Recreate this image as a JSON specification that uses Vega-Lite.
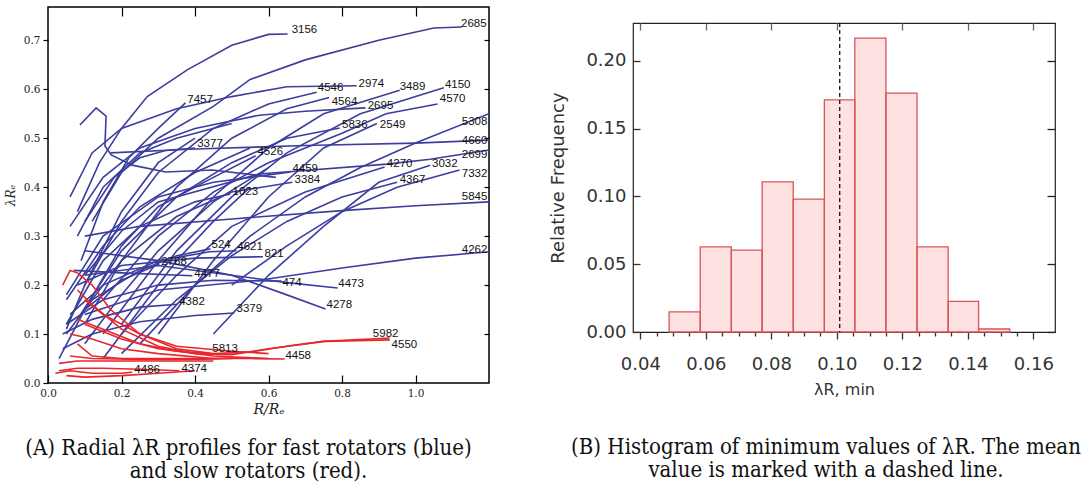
{
  "$schema": "https://vega.github.io/schema/vega-lite/v6.json",
  "background": "white",
  "padding": {"left": 3, "top": 5, "right": 0, "bottom": 0},
  "spacing": 58,
  "config": {"axis": {"grid": false}, "title": {"fontWeight": "normal"}},
  "datasets": {
    "profiles": [
      {"id":"b3156","t":"fast","i":0,"x":0.08,"y":0.35},{"id":"b3156","t":"fast","i":1,"x":0.14,"y":0.45},{"id":"b3156","t":"fast","i":2,"x":0.2,"y":0.52},{"id":"b3156","t":"fast","i":3,"x":0.27,"y":0.585},{"id":"b3156","t":"fast","i":4,"x":0.38,"y":0.64},{"id":"b3156","t":"fast","i":5,"x":0.5,"y":0.69},{"id":"b3156","t":"fast","i":6,"x":0.6,"y":0.712},{"id":"b3156","t":"fast","i":7,"x":0.652,"y":0.713},
      {"id":"b2685","t":"fast","i":0,"x":0.12,"y":0.33},{"id":"b2685","t":"fast","i":1,"x":0.2,"y":0.43},{"id":"b2685","t":"fast","i":2,"x":0.3,"y":0.5},{"id":"b2685","t":"fast","i":3,"x":0.45,"y":0.565},{"id":"b2685","t":"fast","i":4,"x":0.55,"y":0.62},{"id":"b2685","t":"fast","i":5,"x":0.7,"y":0.66},{"id":"b2685","t":"fast","i":6,"x":0.9,"y":0.7},{"id":"b2685","t":"fast","i":7,"x":1.05,"y":0.725},{"id":"b2685","t":"fast","i":8,"x":1.126,"y":0.727},
      {"id":"b7457","t":"fast","i":0,"x":0.09,"y":0.25},{"id":"b7457","t":"fast","i":1,"x":0.15,"y":0.37},{"id":"b7457","t":"fast","i":2,"x":0.22,"y":0.46},{"id":"b7457","t":"fast","i":3,"x":0.3,"y":0.52},{"id":"b7457","t":"fast","i":4,"x":0.374,"y":0.572},
      {"id":"bzig","t":"fast","i":0,"x":0.087,"y":0.527},{"id":"bzig","t":"fast","i":1,"x":0.131,"y":0.562},{"id":"bzig","t":"fast","i":2,"x":0.158,"y":0.545},{"id":"bzig","t":"fast","i":3,"x":0.155,"y":0.484},{"id":"bzig","t":"fast","i":4,"x":0.172,"y":0.466},{"id":"bzig","t":"fast","i":5,"x":0.229,"y":0.445},{"id":"bzig","t":"fast","i":6,"x":0.32,"y":0.431},{"id":"bzig","t":"fast","i":7,"x":0.447,"y":0.435},{"id":"bzig","t":"fast","i":8,"x":0.62,"y":0.42},
      {"id":"b3377","t":"fast","i":0,"x":0.1,"y":0.33},{"id":"b3377","t":"fast","i":1,"x":0.18,"y":0.42},{"id":"b3377","t":"fast","i":2,"x":0.25,"y":0.46},{"id":"b3377","t":"fast","i":3,"x":0.32,"y":0.475},{"id":"b3377","t":"fast","i":4,"x":0.4,"y":0.48},
      {"id":"b4660","t":"fast","i":0,"x":0.17,"y":0.47},{"id":"b4660","t":"fast","i":1,"x":0.4,"y":0.478},{"id":"b4660","t":"fast","i":2,"x":0.7,"y":0.485},{"id":"b4660","t":"fast","i":3,"x":1.0,"y":0.49},{"id":"b4660","t":"fast","i":4,"x":1.2,"y":0.496},
      {"id":"b4526","t":"fast","i":0,"x":0.1,"y":0.15},{"id":"b4526","t":"fast","i":1,"x":0.2,"y":0.28},{"id":"b4526","t":"fast","i":2,"x":0.3,"y":0.36},{"id":"b4526","t":"fast","i":3,"x":0.45,"y":0.42},{"id":"b4526","t":"fast","i":4,"x":0.565,"y":0.464},
      {"id":"b1023","t":"fast","i":0,"x":0.05,"y":0.12},{"id":"b1023","t":"fast","i":1,"x":0.15,"y":0.25},{"id":"b1023","t":"fast","i":2,"x":0.25,"y":0.32},{"id":"b1023","t":"fast","i":3,"x":0.4,"y":0.37},{"id":"b1023","t":"fast","i":4,"x":0.496,"y":0.386},
      {"id":"b4546","t":"fast","i":0,"x":0.1,"y":0.2},{"id":"b4546","t":"fast","i":1,"x":0.2,"y":0.33},{"id":"b4546","t":"fast","i":2,"x":0.3,"y":0.43},{"id":"b4546","t":"fast","i":3,"x":0.45,"y":0.52},{"id":"b4546","t":"fast","i":4,"x":0.6,"y":0.57},{"id":"b4546","t":"fast","i":5,"x":0.731,"y":0.594},
      {"id":"b2974","t":"fast","i":0,"x":0.06,"y":0.38},{"id":"b2974","t":"fast","i":1,"x":0.12,"y":0.47},{"id":"b2974","t":"fast","i":2,"x":0.2,"y":0.52},{"id":"b2974","t":"fast","i":3,"x":0.35,"y":0.56},{"id":"b2974","t":"fast","i":4,"x":0.5,"y":0.585},{"id":"b2974","t":"fast","i":5,"x":0.65,"y":0.605},{"id":"b2974","t":"fast","i":6,"x":0.84,"y":0.607},
      {"id":"b4564","t":"fast","i":0,"x":0.1,"y":0.12},{"id":"b4564","t":"fast","i":1,"x":0.2,"y":0.25},{"id":"b4564","t":"fast","i":2,"x":0.35,"y":0.4},{"id":"b4564","t":"fast","i":3,"x":0.5,"y":0.5},{"id":"b4564","t":"fast","i":4,"x":0.65,"y":0.56},{"id":"b4564","t":"fast","i":5,"x":0.765,"y":0.583},
      {"id":"b3489","t":"fast","i":0,"x":0.15,"y":0.1},{"id":"b3489","t":"fast","i":1,"x":0.3,"y":0.25},{"id":"b3489","t":"fast","i":2,"x":0.45,"y":0.38},{"id":"b3489","t":"fast","i":3,"x":0.6,"y":0.48},{"id":"b3489","t":"fast","i":4,"x":0.75,"y":0.55},{"id":"b3489","t":"fast","i":5,"x":0.957,"y":0.598},
      {"id":"b4150","t":"fast","i":0,"x":0.2,"y":0.12},{"id":"b4150","t":"fast","i":1,"x":0.35,"y":0.27},{"id":"b4150","t":"fast","i":2,"x":0.5,"y":0.38},{"id":"b4150","t":"fast","i":3,"x":0.65,"y":0.47},{"id":"b4150","t":"fast","i":4,"x":0.85,"y":0.55},{"id":"b4150","t":"fast","i":5,"x":1.077,"y":0.603},
      {"id":"b4570","t":"fast","i":0,"x":0.15,"y":0.17},{"id":"b4570","t":"fast","i":1,"x":0.3,"y":0.3},{"id":"b4570","t":"fast","i":2,"x":0.45,"y":0.39},{"id":"b4570","t":"fast","i":3,"x":0.6,"y":0.45},{"id":"b4570","t":"fast","i":4,"x":0.8,"y":0.51},{"id":"b4570","t":"fast","i":5,"x":0.92,"y":0.55},{"id":"b4570","t":"fast","i":6,"x":1.06,"y":0.57},
      {"id":"b2695","t":"fast","i":0,"x":0.06,"y":0.32},{"id":"b2695","t":"fast","i":1,"x":0.15,"y":0.42},{"id":"b2695","t":"fast","i":2,"x":0.25,"y":0.48},{"id":"b2695","t":"fast","i":3,"x":0.4,"y":0.52},{"id":"b2695","t":"fast","i":4,"x":0.575,"y":0.547},{"id":"b2695","t":"fast","i":5,"x":0.7,"y":0.555},{"id":"b2695","t":"fast","i":6,"x":0.864,"y":0.562},
      {"id":"b5836","t":"fast","i":0,"x":0.08,"y":0.13},{"id":"b5836","t":"fast","i":1,"x":0.2,"y":0.27},{"id":"b5836","t":"fast","i":2,"x":0.35,"y":0.38},{"id":"b5836","t":"fast","i":3,"x":0.5,"y":0.45},{"id":"b5836","t":"fast","i":4,"x":0.65,"y":0.5},{"id":"b5836","t":"fast","i":5,"x":0.794,"y":0.521},
      {"id":"b2549","t":"fast","i":0,"x":0.3,"y":0.1},{"id":"b2549","t":"fast","i":1,"x":0.45,"y":0.25},{"id":"b2549","t":"fast","i":2,"x":0.6,"y":0.38},{"id":"b2549","t":"fast","i":3,"x":0.75,"y":0.48},{"id":"b2549","t":"fast","i":4,"x":0.895,"y":0.53},
      {"id":"b5308","t":"fast","i":0,"x":0.25,"y":0.08},{"id":"b5308","t":"fast","i":1,"x":0.4,"y":0.2},{"id":"b5308","t":"fast","i":2,"x":0.55,"y":0.3},{"id":"b5308","t":"fast","i":3,"x":0.7,"y":0.38},{"id":"b5308","t":"fast","i":4,"x":0.85,"y":0.44},{"id":"b5308","t":"fast","i":5,"x":1.0,"y":0.49},{"id":"b5308","t":"fast","i":6,"x":1.2,"y":0.55},
      {"id":"b2699","t":"fast","i":0,"x":0.1,"y":0.22},{"id":"b2699","t":"fast","i":1,"x":0.2,"y":0.31},{"id":"b2699","t":"fast","i":2,"x":0.3,"y":0.37},{"id":"b2699","t":"fast","i":3,"x":0.575,"y":0.427},{"id":"b2699","t":"fast","i":4,"x":0.922,"y":0.447},{"id":"b2699","t":"fast","i":5,"x":1.04,"y":0.457},{"id":"b2699","t":"fast","i":6,"x":1.2,"y":0.476},
      {"id":"b4270","t":"fast","i":0,"x":0.2,"y":0.1},{"id":"b4270","t":"fast","i":1,"x":0.35,"y":0.22},{"id":"b4270","t":"fast","i":2,"x":0.5,"y":0.32},{"id":"b4270","t":"fast","i":3,"x":0.7,"y":0.39},{"id":"b4270","t":"fast","i":4,"x":0.916,"y":0.441},
      {"id":"b3032","t":"fast","i":0,"x":0.45,"y":0.1},{"id":"b3032","t":"fast","i":1,"x":0.6,"y":0.22},{"id":"b3032","t":"fast","i":2,"x":0.75,"y":0.32},{"id":"b3032","t":"fast","i":3,"x":0.9,"y":0.41},{"id":"b3032","t":"fast","i":4,"x":1.04,"y":0.445},
      {"id":"b7332","t":"fast","i":0,"x":0.5,"y":0.2},{"id":"b7332","t":"fast","i":1,"x":0.65,"y":0.28},{"id":"b7332","t":"fast","i":2,"x":0.8,"y":0.35},{"id":"b7332","t":"fast","i":3,"x":0.95,"y":0.4},{"id":"b7332","t":"fast","i":4,"x":1.12,"y":0.435},
      {"id":"b4459","t":"fast","i":0,"x":0.05,"y":0.18},{"id":"b4459","t":"fast","i":1,"x":0.15,"y":0.3},{"id":"b4459","t":"fast","i":2,"x":0.3,"y":0.38},{"id":"b4459","t":"fast","i":3,"x":0.45,"y":0.41},{"id":"b4459","t":"fast","i":4,"x":0.66,"y":0.431},
      {"id":"b3384","t":"fast","i":0,"x":0.1,"y":0.15},{"id":"b3384","t":"fast","i":1,"x":0.2,"y":0.25},{"id":"b3384","t":"fast","i":2,"x":0.35,"y":0.34},{"id":"b3384","t":"fast","i":3,"x":0.5,"y":0.39},{"id":"b3384","t":"fast","i":4,"x":0.665,"y":0.41},
      {"id":"b4367","t":"fast","i":0,"x":0.2,"y":0.06},{"id":"b4367","t":"fast","i":1,"x":0.35,"y":0.17},{"id":"b4367","t":"fast","i":2,"x":0.5,"y":0.26},{"id":"b4367","t":"fast","i":3,"x":0.65,"y":0.33},{"id":"b4367","t":"fast","i":4,"x":0.8,"y":0.38},{"id":"b4367","t":"fast","i":5,"x":0.95,"y":0.41},
      {"id":"b5845","t":"fast","i":0,"x":0.1,"y":0.3},{"id":"b5845","t":"fast","i":1,"x":0.25,"y":0.32},{"id":"b5845","t":"fast","i":2,"x":0.5,"y":0.335},{"id":"b5845","t":"fast","i":3,"x":0.8,"y":0.352},{"id":"b5845","t":"fast","i":4,"x":1.0,"y":0.362},{"id":"b5845","t":"fast","i":5,"x":1.2,"y":0.37},
      {"id":"b4262","t":"fast","i":0,"x":0.1,"y":0.14},{"id":"b4262","t":"fast","i":1,"x":0.3,"y":0.19},{"id":"b4262","t":"fast","i":2,"x":0.575,"y":0.21},{"id":"b4262","t":"fast","i":3,"x":0.8,"y":0.235},{"id":"b4262","t":"fast","i":4,"x":1.0,"y":0.255},{"id":"b4262","t":"fast","i":5,"x":1.2,"y":0.268},
      {"id":"b474","t":"fast","i":0,"x":0.05,"y":0.12},{"id":"b474","t":"fast","i":1,"x":0.15,"y":0.17},{"id":"b474","t":"fast","i":2,"x":0.3,"y":0.2},{"id":"b474","t":"fast","i":3,"x":0.45,"y":0.21},{"id":"b474","t":"fast","i":4,"x":0.635,"y":0.208},
      {"id":"b4473","t":"fast","i":0,"x":0.1,"y":0.22},{"id":"b4473","t":"fast","i":1,"x":0.3,"y":0.24},{"id":"b4473","t":"fast","i":2,"x":0.5,"y":0.22},{"id":"b4473","t":"fast","i":3,"x":0.65,"y":0.205},{"id":"b4473","t":"fast","i":4,"x":0.788,"y":0.194},
      {"id":"b4278","t":"fast","i":0,"x":0.1,"y":0.27},{"id":"b4278","t":"fast","i":1,"x":0.3,"y":0.25},{"id":"b4278","t":"fast","i":2,"x":0.5,"y":0.22},{"id":"b4278","t":"fast","i":3,"x":0.65,"y":0.18},{"id":"b4278","t":"fast","i":4,"x":0.755,"y":0.151},
      {"id":"b524","t":"fast","i":0,"x":0.05,"y":0.1},{"id":"b524","t":"fast","i":1,"x":0.12,"y":0.17},{"id":"b524","t":"fast","i":2,"x":0.25,"y":0.23},{"id":"b524","t":"fast","i":3,"x":0.35,"y":0.26},{"id":"b524","t":"fast","i":4,"x":0.442,"y":0.274},
      {"id":"b4621","t":"fast","i":0,"x":0.06,"y":0.14},{"id":"b4621","t":"fast","i":1,"x":0.15,"y":0.2},{"id":"b4621","t":"fast","i":2,"x":0.3,"y":0.25},{"id":"b4621","t":"fast","i":3,"x":0.44,"y":0.268},{"id":"b4621","t":"fast","i":4,"x":0.513,"y":0.27},
      {"id":"b821","t":"fast","i":0,"x":0.08,"y":0.2},{"id":"b821","t":"fast","i":1,"x":0.2,"y":0.24},{"id":"b821","t":"fast","i":2,"x":0.4,"y":0.255},{"id":"b821","t":"fast","i":3,"x":0.585,"y":0.258},
      {"id":"b2768","t":"fast","i":0,"x":0.03,"y":0.05},{"id":"b2768","t":"fast","i":1,"x":0.1,"y":0.15},{"id":"b2768","t":"fast","i":2,"x":0.2,"y":0.21},{"id":"b2768","t":"fast","i":3,"x":0.303,"y":0.243},
      {"id":"b4477","t":"fast","i":0,"x":0.07,"y":0.23},{"id":"b4477","t":"fast","i":1,"x":0.2,"y":0.225},{"id":"b4477","t":"fast","i":2,"x":0.393,"y":0.219},
      {"id":"b4382","t":"fast","i":0,"x":0.04,"y":0.1},{"id":"b4382","t":"fast","i":1,"x":0.12,"y":0.13},{"id":"b4382","t":"fast","i":2,"x":0.25,"y":0.155},{"id":"b4382","t":"fast","i":3,"x":0.352,"y":0.161},
      {"id":"b3379","t":"fast","i":0,"x":0.04,"y":0.07},{"id":"b3379","t":"fast","i":1,"x":0.12,"y":0.1},{"id":"b3379","t":"fast","i":2,"x":0.25,"y":0.125},{"id":"b3379","t":"fast","i":3,"x":0.4,"y":0.138},{"id":"b3379","t":"fast","i":4,"x":0.507,"y":0.143},
      {"id":"u1","t":"fast","i":0,"x":0.05,"y":0.11},{"id":"u1","t":"fast","i":1,"x":0.1,"y":0.2},{"id":"u1","t":"fast","i":2,"x":0.2,"y":0.35},{"id":"u1","t":"fast","i":3,"x":0.3,"y":0.45},{"id":"u1","t":"fast","i":4,"x":0.4,"y":0.5},
      {"id":"u2","t":"fast","i":0,"x":0.15,"y":0.05},{"id":"u2","t":"fast","i":1,"x":0.25,"y":0.15},{"id":"u2","t":"fast","i":2,"x":0.35,"y":0.25},{"id":"u2","t":"fast","i":3,"x":0.45,"y":0.33},{"id":"u2","t":"fast","i":4,"x":0.55,"y":0.4},
      {"id":"u3","t":"fast","i":0,"x":0.1,"y":0.08},{"id":"u3","t":"fast","i":1,"x":0.2,"y":0.18},{"id":"u3","t":"fast","i":2,"x":0.3,"y":0.27},{"id":"u3","t":"fast","i":3,"x":0.45,"y":0.37},{"id":"u3","t":"fast","i":4,"x":0.6,"y":0.44},
      {"id":"u4","t":"fast","i":0,"x":0.05,"y":0.17},{"id":"u4","t":"fast","i":1,"x":0.15,"y":0.28},{"id":"u4","t":"fast","i":2,"x":0.25,"y":0.36},{"id":"u4","t":"fast","i":3,"x":0.4,"y":0.43},{"id":"u4","t":"fast","i":4,"x":0.55,"y":0.48},
      {"id":"u5","t":"fast","i":0,"x":0.08,"y":0.3},{"id":"u5","t":"fast","i":1,"x":0.15,"y":0.4},{"id":"u5","t":"fast","i":2,"x":0.25,"y":0.47},{"id":"u5","t":"fast","i":3,"x":0.35,"y":0.5},{"id":"u5","t":"fast","i":4,"x":0.5,"y":0.53},
      {"id":"r5982","t":"slow","i":0,"x":0.04,"y":0.2},{"id":"r5982","t":"slow","i":1,"x":0.06,"y":0.23},{"id":"r5982","t":"slow","i":2,"x":0.08,"y":0.225},{"id":"r5982","t":"slow","i":3,"x":0.12,"y":0.2},{"id":"r5982","t":"slow","i":4,"x":0.17,"y":0.15},{"id":"r5982","t":"slow","i":5,"x":0.25,"y":0.1},{"id":"r5982","t":"slow","i":6,"x":0.35,"y":0.07},{"id":"r5982","t":"slow","i":7,"x":0.45,"y":0.06},{"id":"r5982","t":"slow","i":8,"x":0.55,"y":0.063},{"id":"r5982","t":"slow","i":9,"x":0.65,"y":0.075},{"id":"r5982","t":"slow","i":10,"x":0.75,"y":0.085},{"id":"r5982","t":"slow","i":11,"x":0.93,"y":0.092},
      {"id":"r4550","t":"slow","i":0,"x":0.08,"y":0.19},{"id":"r4550","t":"slow","i":1,"x":0.12,"y":0.16},{"id":"r4550","t":"slow","i":2,"x":0.2,"y":0.11},{"id":"r4550","t":"slow","i":3,"x":0.3,"y":0.075},{"id":"r4550","t":"slow","i":4,"x":0.4,"y":0.06},{"id":"r4550","t":"slow","i":5,"x":0.5,"y":0.058},{"id":"r4550","t":"slow","i":6,"x":0.6,"y":0.07},{"id":"r4550","t":"slow","i":7,"x":0.75,"y":0.085},{"id":"r4550","t":"slow","i":8,"x":0.93,"y":0.088},
      {"id":"r5813","t":"slow","i":0,"x":0.08,"y":0.13},{"id":"r5813","t":"slow","i":1,"x":0.15,"y":0.11},{"id":"r5813","t":"slow","i":2,"x":0.25,"y":0.08},{"id":"r5813","t":"slow","i":3,"x":0.35,"y":0.065},{"id":"r5813","t":"slow","i":4,"x":0.44,"y":0.06},
      {"id":"r4458","t":"slow","i":0,"x":0.06,"y":0.1},{"id":"r4458","t":"slow","i":1,"x":0.12,"y":0.09},{"id":"r4458","t":"slow","i":2,"x":0.2,"y":0.07},{"id":"r4458","t":"slow","i":3,"x":0.3,"y":0.06},{"id":"r4458","t":"slow","i":4,"x":0.45,"y":0.05},{"id":"r4458","t":"slow","i":5,"x":0.55,"y":0.05},{"id":"r4458","t":"slow","i":6,"x":0.644,"y":0.049},
      {"id":"r5","t":"slow","i":0,"x":0.1,"y":0.17},{"id":"r5","t":"slow","i":1,"x":0.15,"y":0.14},{"id":"r5","t":"slow","i":2,"x":0.25,"y":0.1},{"id":"r5","t":"slow","i":3,"x":0.35,"y":0.075},{"id":"r5","t":"slow","i":4,"x":0.5,"y":0.065},{"id":"r5","t":"slow","i":5,"x":0.6,"y":0.06},
      {"id":"r6","t":"slow","i":0,"x":0.1,"y":0.12},{"id":"r6","t":"slow","i":1,"x":0.2,"y":0.09},{"id":"r6","t":"slow","i":2,"x":0.3,"y":0.07},{"id":"r6","t":"slow","i":3,"x":0.45,"y":0.055},{"id":"r6","t":"slow","i":4,"x":0.6,"y":0.05},
      {"id":"r7","t":"slow","i":0,"x":0.08,"y":0.08},{"id":"r7","t":"slow","i":1,"x":0.12,"y":0.055},{"id":"r7","t":"slow","i":2,"x":0.2,"y":0.05},{"id":"r7","t":"slow","i":3,"x":0.3,"y":0.05},{"id":"r7","t":"slow","i":4,"x":0.45,"y":0.05},{"id":"r7","t":"slow","i":5,"x":0.55,"y":0.052},
      {"id":"r4486","t":"slow","i":0,"x":0.02,"y":0.02},{"id":"r4486","t":"slow","i":1,"x":0.06,"y":0.025},{"id":"r4486","t":"slow","i":2,"x":0.12,"y":0.02},{"id":"r4486","t":"slow","i":3,"x":0.2,"y":0.02},{"id":"r4486","t":"slow","i":4,"x":0.229,"y":0.022},
      {"id":"r4374","t":"slow","i":0,"x":0.03,"y":0.025},{"id":"r4374","t":"slow","i":1,"x":0.08,"y":0.03},{"id":"r4374","t":"slow","i":2,"x":0.15,"y":0.03},{"id":"r4374","t":"slow","i":3,"x":0.25,"y":0.028},{"id":"r4374","t":"slow","i":4,"x":0.357,"y":0.025},
      {"id":"r10","t":"slow","i":0,"x":0.03,"y":0.04},{"id":"r10","t":"slow","i":1,"x":0.08,"y":0.045},{"id":"r10","t":"slow","i":2,"x":0.15,"y":0.045},{"id":"r10","t":"slow","i":3,"x":0.3,"y":0.045},{"id":"r10","t":"slow","i":4,"x":0.45,"y":0.045},
      {"id":"r11","t":"slow","i":0,"x":0.05,"y":0.015},{"id":"r11","t":"slow","i":1,"x":0.1,"y":0.012},{"id":"r11","t":"slow","i":2,"x":0.2,"y":0.015},{"id":"r11","t":"slow","i":3,"x":0.3,"y":0.02},{"id":"r11","t":"slow","i":4,"x":0.4,"y":0.025},
      {"id":"r12","t":"slow","i":0,"x":0.06,"y":0.055},{"id":"r12","t":"slow","i":1,"x":0.12,"y":0.05},{"id":"r12","t":"slow","i":2,"x":0.25,"y":0.048},{"id":"r12","t":"slow","i":3,"x":0.4,"y":0.048},{"id":"r12","t":"slow","i":4,"x":0.5,"y":0.05}
    ],
    "labels": [
      {"label":"3156","x":0.663,"y":0.721},{"label":"2685","x":1.124,"y":0.733},{"label":"7457","x":0.379,"y":0.578},{"label":"3377","x":0.406,"y":0.488},
      {"label":"1023","x":0.502,"y":0.39},{"label":"4526","x":0.57,"y":0.472},{"label":"4546","x":0.734,"y":0.603},{"label":"2974","x":0.845,"y":0.611},
      {"label":"4564","x":0.772,"y":0.574},{"label":"3489","x":0.957,"y":0.605},{"label":"4150","x":1.08,"y":0.609},{"label":"4570","x":1.066,"y":0.58},
      {"label":"2695","x":0.87,"y":0.566},{"label":"5836","x":0.8,"y":0.527},{"label":"2549","x":0.903,"y":0.527},{"label":"5308","x":1.126,"y":0.533},
      {"label":"4660","x":1.126,"y":0.494},{"label":"2699","x":1.126,"y":0.466},{"label":"7332","x":1.126,"y":0.427},{"label":"4270","x":0.922,"y":0.447},
      {"label":"3032","x":1.045,"y":0.447},{"label":"4459","x":0.665,"y":0.437},{"label":"3384","x":0.671,"y":0.415},{"label":"4367","x":0.957,"y":0.415},
      {"label":"5845","x":1.126,"y":0.38},{"label":"4262","x":1.126,"y":0.272},{"label":"474","x":0.638,"y":0.204},{"label":"4473","x":0.79,"y":0.202},
      {"label":"4278","x":0.758,"y":0.159},{"label":"524","x":0.445,"y":0.282},{"label":"4621","x":0.515,"y":0.278},{"label":"821","x":0.589,"y":0.263},
      {"label":"2768","x":0.308,"y":0.247},{"label":"4477","x":0.398,"y":0.223},{"label":"4382","x":0.357,"y":0.165},{"label":"3379","x":0.513,"y":0.151},
      {"label":"5813","x":0.447,"y":0.069},{"label":"4486","x":0.235,"y":0.027},{"label":"4374","x":0.363,"y":0.029},{"label":"5982","x":0.884,"y":0.1},
      {"label":"4550","x":0.935,"y":0.078},{"label":"4458","x":0.646,"y":0.055}
    ],
    "hist": [
      {"lo":0.0488,"hi":0.0583,"freq":0.0148},{"lo":0.0583,"hi":0.0678,"freq":0.0627},{"lo":0.0678,"hi":0.0772,"freq":0.0603},
      {"lo":0.0772,"hi":0.0867,"freq":0.1107},{"lo":0.0867,"hi":0.0962,"freq":0.0979},{"lo":0.0962,"hi":0.1055,"freq":0.1712},
      {"lo":0.1055,"hi":0.115,"freq":0.2167},{"lo":0.115,"hi":0.1245,"freq":0.1761},{"lo":0.1245,"hi":0.134,"freq":0.0627},
      {"lo":0.134,"hi":0.1433,"freq":0.0226},{"lo":0.1433,"hi":0.1528,"freq":0.0022}
    ],
    "mean": [{"m":0.1009}]
  },
  "hconcat": [
    {
      "width": 441,
      "height": 376,
      "view": {"stroke": "black", "strokeWidth": 1.5},
      "title": {"text": ["(A) Radial λR profiles for fast rotators (blue)", "and slow rotators (red)."], "orient": "bottom", "anchor": "middle", "font": "DejaVu Serif Condensed, Liberation Serif", "fontSize": 22, "fontWeight": "normal", "color": "#111", "lineHeight": 23, "offset": 21, "dx": -20},
      "layer": [
        {
          "data": {"name": "profiles"},
          "mark": {"type": "line", "strokeWidth": 1.6, "clip": true},
          "encoding": {
            "x": {"field": "x", "type": "quantitative", "scale": {"domain": [0, 1.2], "nice": false, "zero": false},
              "axis": {"orient": "bottom", "values": [0, 0.2, 0.4, 0.6, 0.8, 1.0], "format": ".1f", "labelFont": "DejaVu Serif", "labelFontSize": 10.5, "labelColor": "#222", "labelFlush": false, "tickSize": -8, "tickColor": "black", "tickWidth": 1.2, "labelPadding": 13, "domain": false,
                "title": "R/Rₑ", "titleFont": "DejaVu Serif", "titleFontStyle": "italic", "titleFontWeight": "normal", "titleFontSize": 14, "titleColor": "#222", "titlePadding": 4}},
            "y": {"field": "y", "type": "quantitative", "scale": {"domain": [0, 0.768], "nice": false, "zero": false},
              "axis": {"orient": "left", "values": [0, 0.1, 0.2, 0.3, 0.4, 0.5, 0.6, 0.7], "format": ".1f", "labelFont": "DejaVu Serif", "labelFontSize": 10.5, "labelColor": "#222", "labelFlush": false, "tickSize": 5, "tickColor": "black", "tickWidth": 1.2, "labelPadding": 3, "domain": false,
                "title": "λRₑ", "titleFont": "DejaVu Serif", "titleFontStyle": "italic", "titleFontWeight": "normal", "titleFontSize": 12, "titleColor": "#222", "titlePadding": 6}},
            "detail": {"field": "id", "type": "nominal"},
            "order": {"field": "i", "type": "quantitative"},
            "color": {"field": "t", "type": "nominal", "scale": {"domain": ["fast", "slow"], "range": ["#3b3e9d", "#e8262c"]}, "legend": null}
          }
        },
        {
          "data": {"name": "labels"},
          "mark": {"type": "text", "align": "left", "baseline": "middle", "font": "Liberation Sans", "fontSize": 11.5, "color": "#111"},
          "encoding": {
            "x": {"field": "x", "type": "quantitative", "axis": {"orient": "top", "values": [0.2, 0.4, 0.6, 0.8, 1.0], "labels": false, "tickSize": -9, "tickColor": "black", "tickWidth": 1.2, "domain": false, "title": null}},
            "y": {"field": "y", "type": "quantitative", "axis": {"orient": "right", "values": [0.1, 0.2, 0.3, 0.4, 0.5, 0.6, 0.7], "labels": false, "tickSize": -5, "tickColor": "black", "tickWidth": 1.2, "domain": false, "title": null}},
            "text": {"field": "label", "type": "nominal"}
          }
        }
      ],
      "resolve": {"axis": {"x": "independent", "y": "independent"}}
    },
    {
      "spacing": 0,
      "vconcat": [
        {
          "width": 20,
          "height": 14,
          "view": {"stroke": null},
          "data": {"name": "mean"},
          "mark": {"type": "text", "opacity": 0},
          "encoding": {"text": {"value": " "}}
        },
        {
          "width": 422,
          "height": 309,
          "view": {"stroke": "#222", "strokeWidth": 1.2},
          "title": {"text": ["(B) Histogram of minimum values of λR. The mean", "value is marked with a dashed line."], "orient": "bottom", "anchor": "middle", "font": "DejaVu Serif Condensed, Liberation Serif", "fontSize": 22, "fontWeight": "normal", "color": "#111", "lineHeight": 23, "offset": 40, "dx": -18},
          "layer": [
            {
              "data": {"name": "hist"},
              "mark": {"type": "bar", "fill": "#fee2e2", "stroke": null, "orient": "vertical"},
              "encoding": {
                "x": {"field": "lo", "type": "quantitative", "scale": {"domain": [0.0393, 0.1651], "nice": false, "zero": false},
                  "axis": {"orient": "bottom", "values": [0.04,0.045,0.05,0.055,0.06,0.065,0.07,0.075,0.08,0.085,0.09,0.095,0.1,0.105,0.11,0.115,0.12,0.125,0.13,0.135,0.14,0.145,0.15,0.155,0.16],
                    "labelExpr": "round(datum.value*1000) % 20 === 0 ? format(datum.value, '.2f') : ''", "labelOverlap": false, "labelFlush": false,
                    "tickSize": {"condition": {"test": "round(datum.value*1000) % 20 === 0", "value": 7}, "value": 4},
                    "labelPadding": 16, "labelFont": "DejaVu Sans", "labelFontSize": 18, "labelColor": "#333", "tickColor": "#333", "tickWidth": 1.3, "domain": false,
                    "title": "λR, min", "titleFont": "DejaVu Sans", "titleFontSize": 16, "titleFontWeight": "normal", "titleColor": "#333", "titlePadding": 8}},
                "x2": {"field": "hi"},
                "y": {"field": "freq", "type": "quantitative", "scale": {"domain": [0, 0.2278], "nice": false, "zero": false},
                  "axis": {"orient": "left", "values": [0, 0.05, 0.1, 0.15, 0.2], "format": ".2f", "labelFlush": false, "tickSize": -7, "tickColor": "#333", "tickWidth": 1.3, "labelPadding": 14, "labelFont": "DejaVu Sans", "labelFontSize": 18, "labelColor": "#333", "domain": false,
                    "title": "Relative Frequency", "titleFont": "DejaVu Sans", "titleFontSize": 18, "titleFontWeight": "normal", "titleColor": "#333", "titlePadding": 18}},
                "y2": {"datum": 0}
              }
            },
            {
              "data": {"name": "hist"},
              "mark": {"type": "bar", "fill": "transparent", "stroke": "#d9545a", "strokeWidth": 1.3, "orient": "vertical"},
              "encoding": {
                "x": {"field": "lo", "type": "quantitative", "axis": {"orient": "top", "values": [0.04, 0.06, 0.08, 0.1, 0.12, 0.14, 0.16], "labels": false, "tickSize": -7, "tickColor": "#666", "tickWidth": 1.3, "domain": false, "title": null}},
                "x2": {"field": "hi"},
                "y": {"field": "freq", "type": "quantitative", "axis": {"orient": "right", "values": [0, 0.05, 0.1, 0.15, 0.2], "labels": false, "tickSize": -8, "tickColor": "#222", "tickWidth": 1.3, "domain": false, "title": null}},
                "y2": {"datum": 0}
              }
            },
            {
              "data": {"name": "mean"},
              "mark": {"type": "rule", "strokeDash": [4, 3], "color": "black", "strokeWidth": 1.2},
              "encoding": {"x": {"field": "m", "type": "quantitative", "axis": null}}
            }
          ],
          "resolve": {"axis": {"x": "independent", "y": "independent"}}
        }
      ]
    }
  ]
}
